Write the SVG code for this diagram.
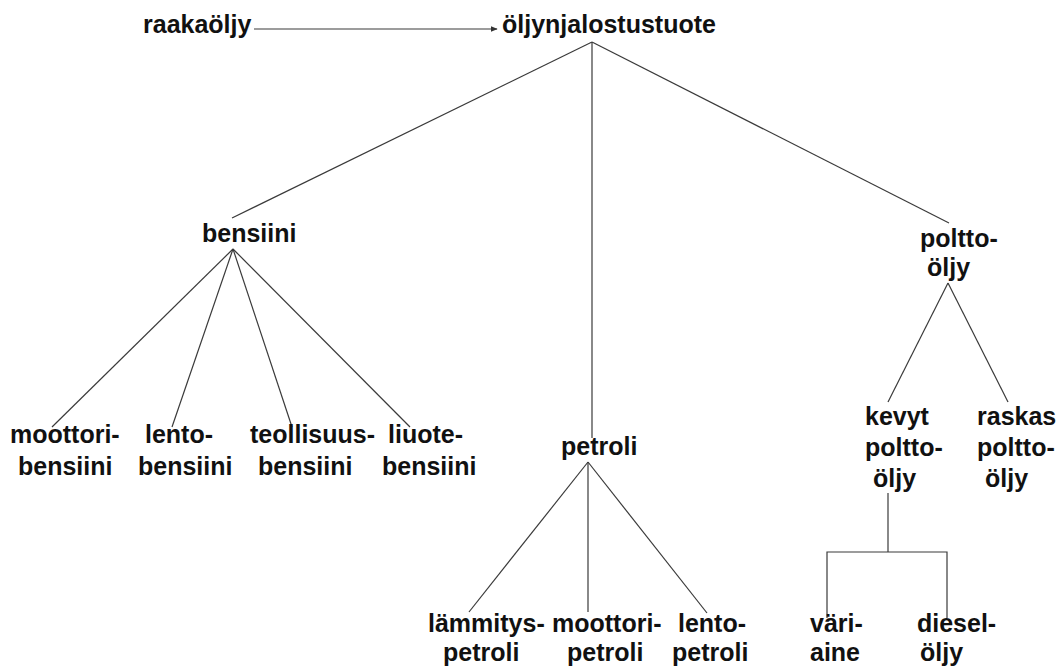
<svg xmlns="http://www.w3.org/2000/svg" width="1060" height="668" viewBox="0 0 1060 668">
<style>
text{font-family:"Liberation Sans",Arial,sans-serif;font-weight:bold;font-size:25px;fill:#111}
.c line,.c polyline{stroke:#3a3a3a;stroke-width:1.2;fill:none}
</style>
<defs>
<marker id="ah" viewBox="0 0 10 10" refX="9" refY="5" markerWidth="7" markerHeight="7" orient="auto" markerUnits="userSpaceOnUse">
<path d="M0,1 L10,5 L0,9 Z" fill="#333"/>
</marker>
</defs>
<rect width="1060" height="668" fill="#fff"/>
<g class="c" id="connectors">
<line x1="254" y1="29" x2="497" y2="29" marker-end="url(#ah)"/>
<line x1="592" y1="42" x2="232" y2="218"/>
<line x1="592" y1="42" x2="592" y2="438"/>
<line x1="592" y1="42" x2="949" y2="223"/>
<line x1="233" y1="249" x2="52" y2="427"/>
<line x1="233" y1="249" x2="172" y2="427"/>
<line x1="233" y1="249" x2="292" y2="427"/>
<line x1="233" y1="249" x2="410" y2="427"/>
<line x1="588" y1="462" x2="469" y2="612"/>
<line x1="588" y1="462" x2="588" y2="612"/>
<line x1="588" y1="462" x2="707" y2="613"/>
<line x1="948" y1="283" x2="888" y2="402"/>
<line x1="948" y1="283" x2="1008" y2="402"/>
<line x1="888" y1="493" x2="888" y2="552"/>
<polyline points="827,618 827,552 947,552 947,618"/>
</g>
<g id="raakaoljy"><text x="143" y="33">raakaöljy</text></g>
<g id="oljynjalostustuote"><text x="502" y="33">öljynjalostustuote</text></g>
<g id="bensiini"><text x="202" y="242">bensiini</text></g>
<g id="polttooljy"><text x="920" y="247">poltto-</text><text x="927" y="276">öljy</text></g>
<g id="moottoribensiini"><text x="10" y="443">moottori-</text><text x="18" y="475">bensiini</text></g>
<g id="lentobensiini"><text x="145" y="443">lento-</text><text x="138" y="475">bensiini</text></g>
<g id="teollisuusbensiini"><text x="250" y="443">teollisuus-</text><text x="258" y="475">bensiini</text></g>
<g id="liuotebensiini"><text x="388" y="443">liuote-</text><text x="382" y="475">bensiini</text></g>
<g id="petroli"><text x="561" y="455">petroli</text></g>
<g id="kevytpolttooljy"><text x="865" y="425">kevyt</text><text x="865" y="456">poltto-</text><text x="873" y="487">öljy</text></g>
<g id="raskaspolttooljy"><text x="977" y="425">raskas</text><text x="977" y="456">poltto-</text><text x="985" y="487">öljy</text></g>
<g id="lammityspetroli"><text x="428" y="632">lämmitys-</text><text x="443" y="661">petroli</text></g>
<g id="moottoripetroli"><text x="552" y="632">moottori-</text><text x="567" y="661">petroli</text></g>
<g id="lentopetroli"><text x="678" y="632">lento-</text><text x="672" y="661">petroli</text></g>
<g id="variaine"><text x="810" y="632">väri-</text><text x="810" y="661">aine</text></g>
<g id="dieseloljy"><text x="917" y="632">diesel-</text><text x="920" y="661">öljy</text></g>
</svg>
